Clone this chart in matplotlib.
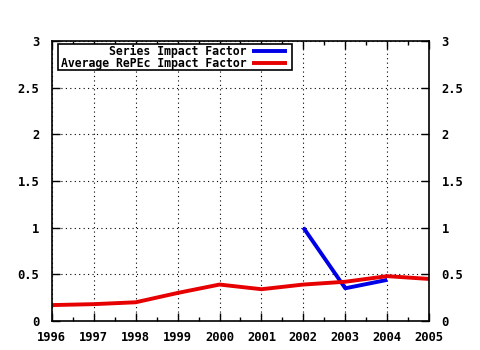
import matplotlib
matplotlib.use("Agg")
import matplotlib.pyplot as plt
from matplotlib.patches import Rectangle
from matplotlib.ticker import MultipleLocator

years = [1996, 1997, 1998, 1999, 2000, 2001, 2002, 2003, 2004, 2005]
avg_repec = [0.17, 0.18, 0.20, 0.30, 0.39, 0.34, 0.39, 0.42, 0.48, 0.45]
series_years = [2002, 2003, 2004]
series_if = [1.0, 0.35, 0.44]

plt.rcParams['font.family'] = 'DejaVu Sans Mono'
plt.rcParams['font.weight'] = 'bold'
plt.rcParams['font.size'] = 8.7

fig = plt.figure(figsize=(4.8, 3.5), dpi=100)
ax = fig.add_axes([0.108, 0.083, 0.786, 0.8])

ax.plot(series_years, series_if, color='#0000e6', lw=2.8, solid_capstyle='butt')
ax.plot(years, avg_repec, color='#e60000', lw=2.8, solid_capstyle='butt')

ax.set_xlim(1996, 2005)
ax.set_ylim(0, 3)
ax.set_xticks(years)
ax.xaxis.set_minor_locator(MultipleLocator(0.5))
ax.set_yticks([0, 0.5, 1, 1.5, 2, 2.5, 3])
ax.set_yticklabels(['0', '0.5', '1', '1.5', '2', '2.5', '3'])
ax.tick_params(which='both', direction='in', top=True, right=True,
               labelright=True, width=1, color='black')
ax.tick_params(which='major', length=6, pad=9)
ax.tick_params(axis='x', which='major', pad=7)
ax.tick_params(which='minor', length=3)
ax.grid(True, which='major', color='black', linestyle=(0, (1, 3)), lw=0.8)
for s in ax.spines.values():
    s.set_linewidth(1.2)

# legend drawn gnuplot style: right-aligned labels, samples on the right
ax.add_patch(Rectangle((0.016, 0.896), 0.621, 0.093, transform=ax.transAxes,
                       facecolor='white', edgecolor='black', lw=1.2, zorder=5))
labels = ['Series Impact Factor', 'Average RePEc Impact Factor']
colors = ['#0000e6', '#e60000']
for i, (lab, c) in enumerate(zip(labels, colors)):
    yy = 0.964 - i * 0.043
    ax.text(0.515, yy, lab, transform=ax.transAxes, ha='right', va='center',
            fontsize=8.3, zorder=6)
    ax.plot([0.531, 0.624], [yy, yy], transform=ax.transAxes, color=c,
            lw=2.8, zorder=6, solid_capstyle='butt')

fig.savefig('out.png', dpi=100)
